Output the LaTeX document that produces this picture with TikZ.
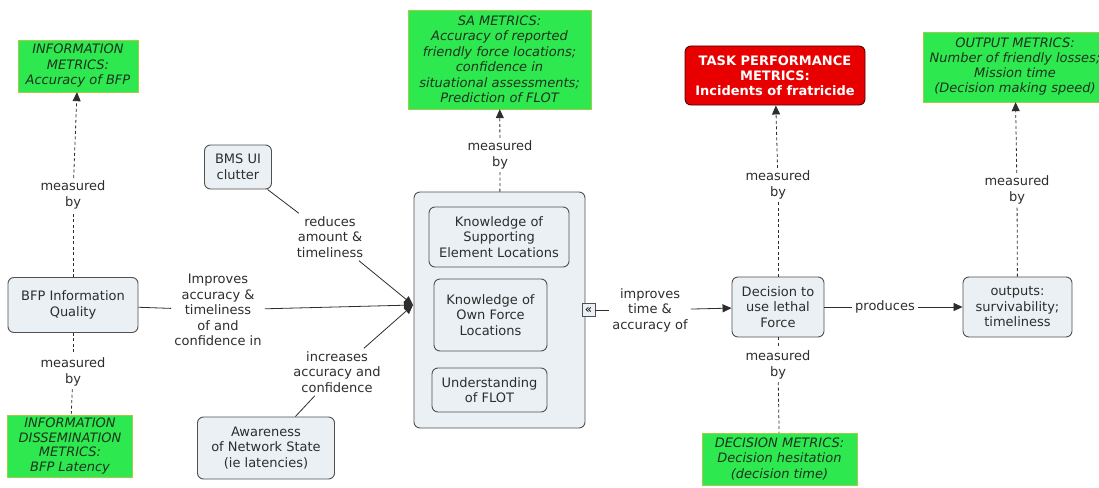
\documentclass[tikz,border=0pt]{standalone}
\usepackage{fontspec}
\setmainfont{DejaVu Sans}
\usetikzlibrary{arrows.meta}
\definecolor{cfill}{RGB}{234,240,244}
\definecolor{cdraw}{RGB}{80,80,80}
\definecolor{gfill}{RGB}{46,232,80}
\definecolor{gdraw}{RGB}{160,205,70}
\definecolor{gtext}{RGB}{30,50,30}
\definecolor{rfill}{RGB}{232,0,0}
\definecolor{ltext}{RGB}{45,45,45}
\begin{document}
\begin{tikzpicture}[x=1pt,y=-1pt,
 font=\fontsize{13}{15.5}\selectfont,
 concept/.style={draw=cdraw,fill=cfill,rounded corners=6pt,line width=0.9pt,align=center,text=ltext,inner sep=2pt},
 metric/.style={draw=gdraw,fill=gfill,align=center,text=gtext,font=\fontsize{13}{15.5}\selectfont\itshape,inner sep=2pt},
 link/.style={align=center,text=ltext,inner sep=3pt},
 conn/.style={draw=ltext,line width=0.8pt},
 tip/.style={-{Triangle[width=8pt,length=9pt]}},
 meas/.style={conn,dash pattern=on 3pt off 2.5pt},
]
\useasboundingbox (0,0) rectangle (1099,487);

% left column
\node[metric,minimum width=120,minimum height=52] (im) at (78,66) {INFORMATION\\METRICS:\\Accuracy of BFP};
\node[concept,minimum width=130,minimum height=55] (bfp) at (73,305) {BFP Information\\Quality};
\node[link] (mb1) at (73,195) {measured\\by};
\node[link] (mb2) at (73,372) {measured\\by};
\node[metric,minimum width=125,minimum height=62,font=\fontsize{13}{14.5}\selectfont\itshape] (idm) at (70,446) {INFORMATION\\DISSEMINATION\\METRICS:\\BFP Latency};

% inputs
\node[concept,minimum width=67,minimum height=44] (bms) at (238,167) {BMS UI\\clutter};
\node[link] (red) at (330,237) {reduces\\amount \&\\timeliness};
\node[link] (imp) at (218,310) {Improves\\accuracy \&\\timeliness\\of and\\confidence in};
\node[link] (inc) at (337,372) {increases\\accuracy and\\confidence};
\node[concept,minimum width=137,minimum height=62] (aw) at (266,448) {Awareness\\of Network State\\(ie latencies)};

% SA container
\node[concept,minimum width=171,minimum height=236] (sa) at (499.5,310) {};
\node[concept,minimum width=140,minimum height=60] (k1) at (499,237) {Knowledge of\\Supporting\\Element Locations};
\node[concept,minimum width=113,minimum height=72] (k2) at (490.5,315) {Knowledge of\\Own Force\\Locations};
\node[concept,minimum width=115,minimum height=44] (k3) at (489.5,390) {Understanding\\of FLOT};
\coordinate (in) at (413,305);
\node[link] (mb3) at (500,155) {measured\\by};
\node[metric,minimum width=183,minimum height=99] (sam) at (499.5,59.5) {SA METRICS:\\Accuracy of reported\\friendly force locations;\\confidence in\\situational assessments;\\Prediction of FLOT};
\node[draw=cdraw,fill=cfill,line width=0.8pt,minimum size=13,inner sep=0pt,font=\fontsize{12}{12}\selectfont] (exp) at (588.5,310) {«};

% decision
\node[link] (imp2) at (650,310) {improves\\time \&\\accuracy of};
\node[concept,minimum width=92,minimum height=60] (dec) at (778,307) {Decision to\\use lethal\\Force};
\node[link] (prod) at (885,307) {produces};
\node[concept,minimum width=109,minimum height=60] (out) at (1017.5,307) {outputs:\\survivability;\\timeliness};
\node[link] (mb4) at (778,185) {measured\\by};
\node[draw=black!70!red,fill=rfill,rounded corners=6pt,line width=0.9pt,text=white,align=center,font=\fontsize{13}{15}\selectfont\bfseries,minimum width=180,minimum height=59] (tp) at (775,75.5) {TASK PERFORMANCE\\METRICS:\\Incidents of fratricide};
\node[link] (mb5) at (778,365) {measured\\by};
\node[metric,minimum width=155,minimum height=52] (dm) at (779.5,459) {DECISION METRICS:\\Decision hesitation\\(decision time)};
\node[link] (mb6) at (1017,190) {measured\\by};
\node[metric,minimum width=184,minimum height=70,font=\fontsize{13}{15}\selectfont\itshape] (om) at (1015,67) {OUTPUT METRICS:\\Number of friendly losses;\\Mission time\\(Decision making speed)};

% connectors
\draw[meas] (bfp) -- (mb1); \draw[meas,tip] (mb1) -- (im);
\draw[meas] (bfp) -- (mb2); \draw[meas] (mb2) -- (idm);
\draw[conn] (bms) -- (red); \draw[conn,tip] (red) -- (in);
\draw[conn] (bfp) -- (imp); \draw[conn,tip] (imp) -- (in);
\draw[conn] (aw) -- (inc); \draw[conn,tip] (inc) -- (in);
\draw[meas] (sa) -- (mb3); \draw[meas,tip] (mb3) -- (sam);
\draw[conn] (exp) -- (imp2); \draw[conn,tip] (imp2) -- (dec);
\draw[conn] (dec) -- (prod); \draw[conn,tip] (prod) -- (out);
\draw[meas] (dec) -- (mb4); \draw[meas,tip] (mb4) -- (tp);
\draw[meas] (dec) -- (mb5); \draw[meas] (mb5) -- (dm);
\draw[meas] (out) -- (mb6); \draw[meas,tip] (mb6) -- (om);
\end{tikzpicture}
\end{document}
